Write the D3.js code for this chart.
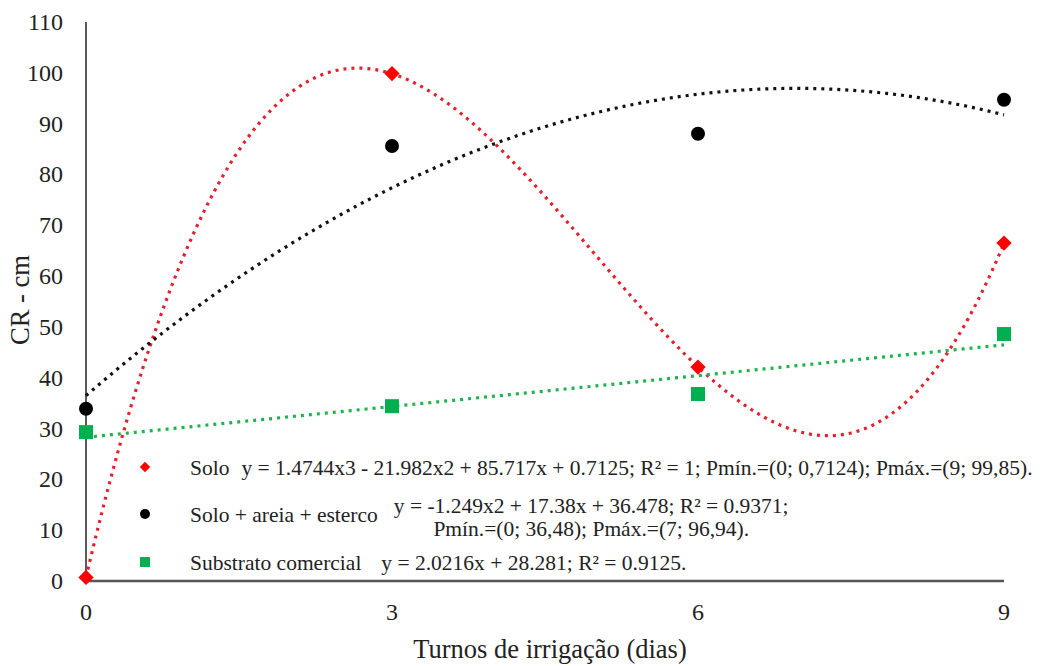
<!DOCTYPE html>
<html>
<head>
<meta charset="utf-8">
<script src="https://cdn.jsdelivr.net/npm/d3@7"></script>
</head>
<body style="margin:0">
<svg id="chart" width="1060" height="666" font-family="Times New Roman"></svg>
<script>
// Irrigation shifts (days)
const turnos = [0, 3, 6, 9];
const xTicks = [0, 3, 6, 9];
const yTicks = [0, 10, 20, 30, 40, 50, 60, 70, 80, 90, 100, 110];

// Observed values (CR - cm)
const solo = [0.71, 99.85, 42.1, 66.5];
const soloAreia = [33.9, 85.6, 88.0, 94.7];
const substrato = [29.3, 34.4, 36.8, 48.6];

// Trendline coefficients, highest power first (from the legend equations)
const coefSolo = [1.4744, -21.982, 85.717, 0.7125];
const coefSoloAreia = [-1.249, 17.38, 36.478];
const coefSubstrato = [2.0216, 28.281];

const legendLabels = ["Solo", "Solo + areia + esterco", "Substrato comercial"];
const legendEquations = [
    ["y = 1.4744x3 - 21.982x2 + 85.717x + 0.7125; R² = 1; Pmín.=(0; 0,7124); Pmáx.=(9; 99,85)."],
    ["y = -1.249x2 + 17.38x + 36.478; R² = 0.9371;", "Pmín.=(0; 36,48); Pmáx.=(7; 96,94)."],
    ["y = 2.0216x + 28.281; R² = 0.9125."]
];

const FONT = "Times New Roman";
const TXT = "#222";

const margin = { top: 22, right: 56, bottom: 85, left: 86 };
const width = 1060 - margin.left - margin.right;
const height = 666 - margin.top - margin.bottom;

const svg = d3.select("#chart");
const g = svg.append("g")
    .attr("transform", `translate(${margin.left}, ${margin.top})`);

const x = d3.scaleLinear().domain([0, 9]).range([0, width]);
const y = d3.scaleLinear().domain([0, 110]).range([height, 0]);

// y labels (no tick marks)
g.selectAll(".ylab")
    .data(yTicks)
    .enter()
    .append("text")
    .attr("x", -23)
    .attr("y", d => y(d) + 8)
    .attr("text-anchor", "end")
    .attr("font-family", FONT)
    .attr("font-size", 24)
    .attr("fill", TXT)
    .text(d => d);

g.selectAll(".xlab")
    .data(xTicks)
    .enter()
    .append("text")
    .attr("x", d => x(d))
    .attr("y", height + 39)
    .attr("text-anchor", "middle")
    .attr("font-family", FONT)
    .attr("font-size", 24)
    .attr("fill", TXT)
    .text(d => d);

// axis lines
g.append("line")
    .attr("x1", 0).attr("x2", 0)
    .attr("y1", 0).attr("y2", height)
    .attr("stroke", "#222")
    .attr("stroke-width", 1.5);

g.append("line")
    .attr("x1", 0).attr("x2", width)
    .attr("y1", height).attr("y2", height)
    .attr("stroke", "#555")
    .attr("stroke-width", 2.5);

// axis titles
svg.append("text")
    .attr("transform", "translate(29, 300) rotate(-90)")
    .attr("text-anchor", "middle")
    .attr("font-family", FONT)
    .attr("font-size", 26.5)
    .attr("fill", TXT)
    .text("CR - cm");

svg.append("text")
    .attr("x", 550)
    .attr("y", 658)
    .attr("text-anchor", "middle")
    .attr("font-family", FONT)
    .attr("font-size", 26.5)
    .attr("fill", TXT)
    .text("Turnos de irrigação (dias)");

// polynomial trendlines sampled over 0..9
const poly = coef => t => coef.reduce((acc, c) => acc * t + c, 0);
const samples = d3.range(0, 9.0001, 0.05);
const line = d3.line().x(d => x(d[0])).y(d => y(d[1]));

const trends = [
    { coef: coefSolo, color: "#e3202c" },
    { coef: coefSoloAreia, color: "#111" },
    { coef: coefSubstrato, color: "#1fb34f" }
];

// legend background
svg.append("rect")
    .attr("x", 130)
    .attr("y", 446)
    .attr("width", 890)
    .attr("height", 133)
    .attr("fill", "#fff");

trends.forEach(t => {
    const f = poly(t.coef);
    g.append("path")
        .datum(samples.map(s => [s, f(s)]))
        .attr("d", line)
        .attr("fill", "none")
        .attr("stroke", t.color)
        .attr("stroke-width", 3.2)
        .attr("stroke-dasharray", "3 5");
});

// markers
g.selectAll(".solo")
    .data(solo)
    .enter()
    .append("path")
    .attr("d", d3.symbol(d3.symbolDiamond2, 150))
    .attr("transform", (d, i) => `translate(${x(turnos[i])}, ${y(d)})`)
    .attr("fill", "#ff0000");

g.selectAll(".areia")
    .data(soloAreia)
    .enter()
    .append("circle")
    .attr("cx", (d, i) => x(turnos[i]))
    .attr("cy", d => y(d))
    .attr("r", 7)
    .attr("fill", "#000");

g.selectAll(".sub")
    .data(substrato)
    .enter()
    .append("rect")
    .attr("x", (d, i) => x(turnos[i]) - 7)
    .attr("y", d => y(d) - 7)
    .attr("width", 14)
    .attr("height", 14)
    .attr("fill", "#00b050");

// legend
const legendY = [467, 514, 562];
const labelBase = [475, 522, 570];
const legend = svg.append("g");

legend.append("path")
    .attr("d", d3.symbol(d3.symbolDiamond2, 70))
    .attr("transform", `translate(145, ${legendY[0]})`)
    .attr("fill", "#ff0000");
legend.append("circle")
    .attr("cx", 145).attr("cy", legendY[1]).attr("r", 5)
    .attr("fill", "#000");
legend.append("rect")
    .attr("x", 140).attr("y", legendY[2] - 5)
    .attr("width", 10).attr("height", 10)
    .attr("fill", "#00b050");

const addText = (txt, px, py, anchor) => legend.append("text")
    .attr("x", px)
    .attr("y", py)
    .attr("text-anchor", anchor || "start")
    .attr("font-family", FONT)
    .attr("font-size", 21.5)
    .attr("fill", TXT)
    .text(txt);

const labelEnds = legendLabels.map((lab, i) => {
    const t = addText(lab, 190, labelBase[i]);
    return 190 + t.node().getComputedTextLength();
});

// equations next to each label
addText(legendEquations[0][0], labelEnds[0] + 12, labelBase[0]);
const eq1 = addText(legendEquations[1][0], labelEnds[1] + 16, labelBase[1] - 9);
const eq1mid = labelEnds[1] + 16 + eq1.node().getComputedTextLength() / 2;
addText(legendEquations[1][1], eq1mid, labelBase[1] + 14, "middle");
addText(legendEquations[2][0], labelEnds[2] + 20, labelBase[2]);
</script>
</body>
</html>
